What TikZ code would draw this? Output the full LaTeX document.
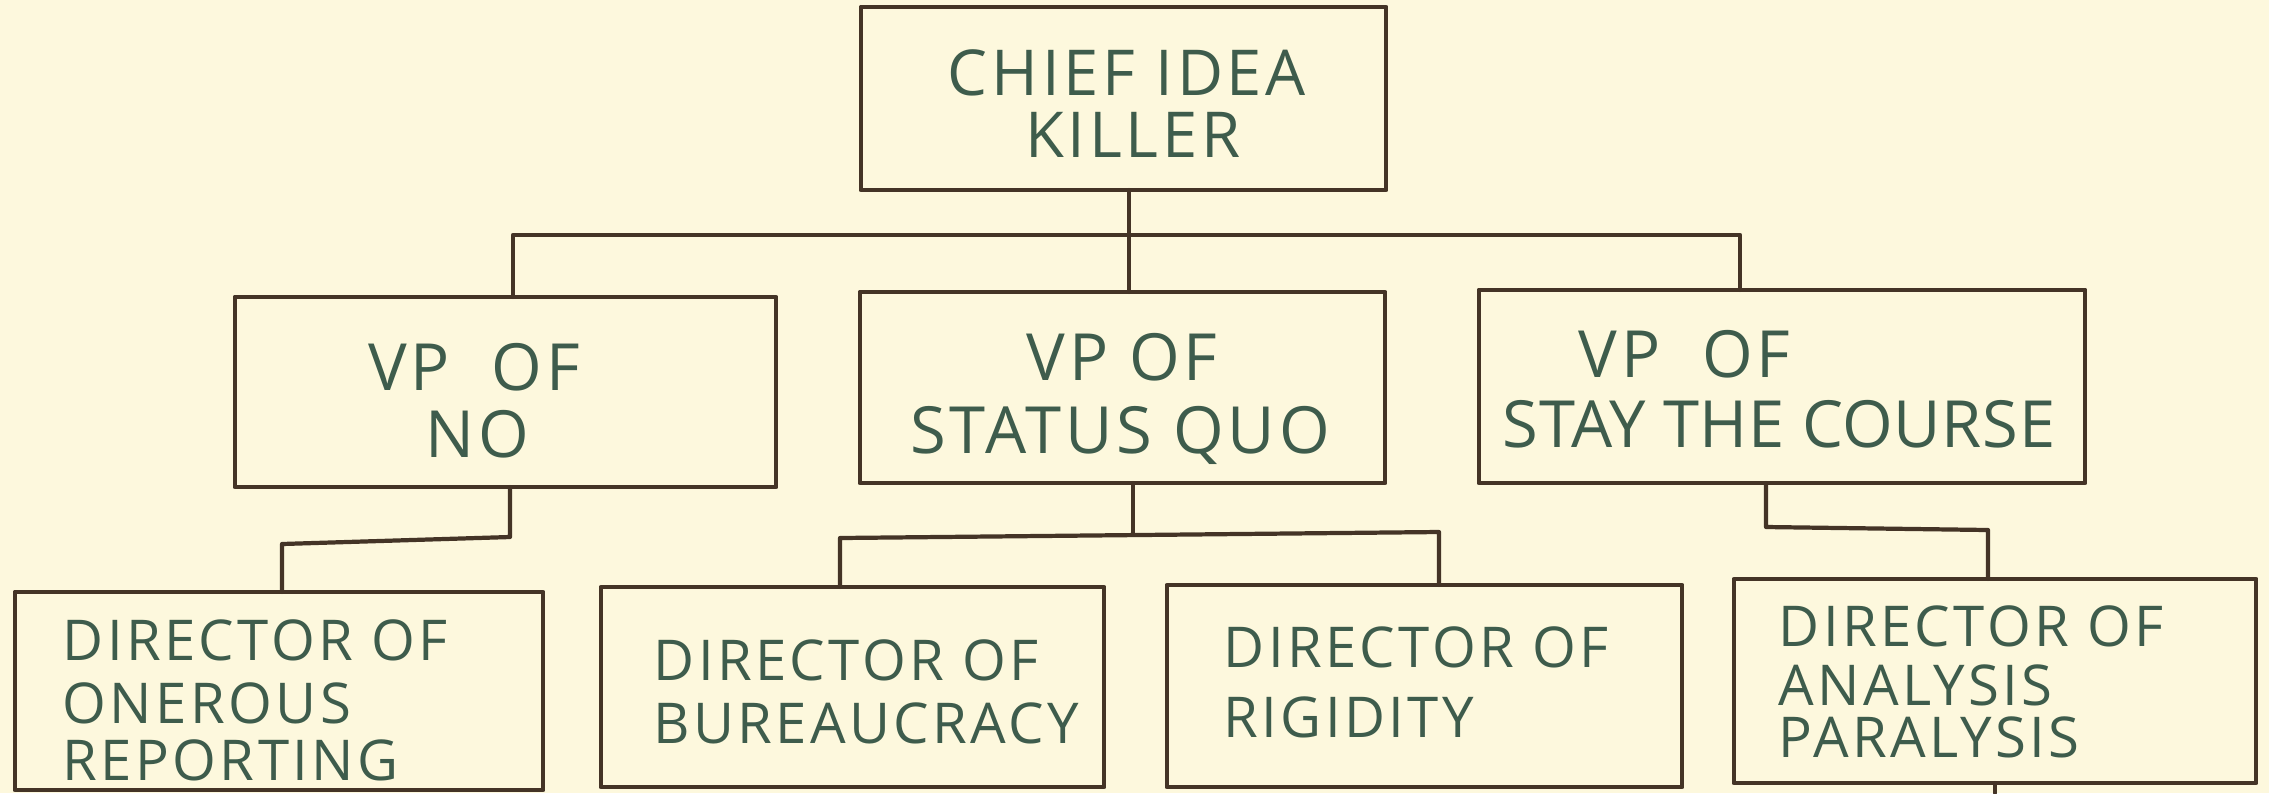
\documentclass[tikz,border=0pt]{standalone}
\usepackage{fontspec}
\setmainfont{Open Sans}[LetterSpace=6]
\definecolor{paper}{RGB}{253,248,221}
\definecolor{ink}{RGB}{68,52,38}
\definecolor{pen}{RGB}{62,92,76}
\tikzset{
  box/.style={draw=ink, line width=1.3pt, rectangle, inner sep=0pt, outer sep=0pt, line join=round},
  wire/.style={draw=ink, line width=1.2pt, line cap=round, line join=round},
  headtxt/.style={text=pen, inner sep=0pt, text depth=0pt, font=\fontsize{18}{20}\selectfont},
  vptxt/.style={text=pen, inner sep=0pt, text depth=0pt, font=\fontsize{18.5}{21}\selectfont},
  dirtxt/.style={text=pen, inner sep=0pt, text depth=0pt, font=\fontsize{16}{18}\selectfont},
}
\begin{document}
\begin{tikzpicture}[x=0.01cm, y=-0.01cm]
  % paper
  \fill[paper] (0,0) rectangle (2269,793);
  \useasboundingbox (0,0) rectangle (2269,793);

  % boxes
  \node[box, minimum width=5.25cm, minimum height=1.83cm] (chief) at (1123.5,98.5) {};
  \node[box, minimum width=5.41cm, minimum height=1.90cm] (vpno) at (505.5,392) {};
  \node[box, minimum width=5.25cm, minimum height=1.91cm] (vpsq) at (1122.5,387.5) {};
  \node[box, minimum width=6.06cm, minimum height=1.93cm] (vpstay) at (1782,386.5) {};
  \node[box, minimum width=5.28cm, minimum height=1.98cm] (onerous) at (279,691) {};
  \node[box, minimum width=5.03cm, minimum height=2.00cm] (bureau) at (852.5,687) {};
  \node[box, minimum width=5.15cm, minimum height=2.02cm] (rigid) at (1424.5,686) {};
  \node[box, minimum width=5.22cm, minimum height=2.04cm] (analysis) at (1995,681) {};

  % first level bus
  \coordinate (busA) at (1129,235);
  \coordinate (busL) at (513,235);
  \coordinate (busR) at (1740,235);
  \draw[wire] (chief.south -| busA) -- (busA);
  \draw[wire] (busL |- vpno.north) -- (busL) -- (busR) -- (busR |- vpstay.north);
  \draw[wire] (busA) -- (busA |- vpsq.north);

  % VP of No branch
  \coordinate (n1) at (510,537);
  \coordinate (n2) at (282,544);
  \draw[wire] (n1 |- vpno.south) -- (n1) -- (n2) -- (n2 |- onerous.north);

  % VP of Status Quo branch
  \coordinate (s0) at (1133,534);
  \coordinate (s1) at (840,538);
  \coordinate (s2) at (1439,532);
  \draw[wire] (s0 |- vpsq.south) -- (s0);
  \draw[wire] (s1 |- bureau.north) -- (s1) -- (s2) -- (s2 |- rigid.north);

  % VP of Stay the Course branch
  \coordinate (c1) at (1766,527);
  \coordinate (c2) at (1988,530);
  \coordinate (c3) at (1995,793);
  \draw[wire] (c1 |- vpstay.south) -- (c1) -- (c2) -- (c2 |- analysis.north);
  \draw[wire] (c3 |- analysis.south) -- (c3);

  % lettering
  \node[headtxt, anchor=base] (chief-a) at (1127,95) {CHIEF IDEA};
  \node[headtxt, anchor=base] (chief-b) at (1133,157) {KILLER};

  \node[vptxt, anchor=base] (vpno-a) at (474,390) {VP~~OF};
  \node[vptxt, anchor=base] (vpno-b) at (477,457) {NO};

  \node[vptxt, anchor=base] (vpsq-a) at (1122,380) {VP OF};
  \node[vptxt, anchor=base] (vpsq-b) at (1120,453) {STATUS QUO};

  \node[vptxt, anchor=base west] (vpstay-a) at (1578,377) {VP~~OF};
  \node[vptxt, anchor=base west] (vpstay-b) at (1502,447)
    {\addfontfeature{LetterSpace=1}STAY THE COURSE};

  \node[dirtxt, anchor=base west] (onerous-a) at (62,660) {DIRECTOR OF};
  \node[dirtxt, anchor=base west] (onerous-b) at (62,723) {ONEROUS};
  \node[dirtxt, anchor=base west] (onerous-c) at (62,780) {REPORTING};

  \node[dirtxt, anchor=base west] (bureau-a) at (653,680) {DIRECTOR OF};
  \node[dirtxt, anchor=base west] (bureau-b) at (653,743) {BUREAUCRACY};

  \node[dirtxt, anchor=base west] (rigid-a) at (1223,667) {DIRECTOR OF};
  \node[dirtxt, anchor=base west] (rigid-b) at (1223,737) {RIGIDITY};

  \node[dirtxt, anchor=base west] (analysis-a) at (1778,646) {DIRECTOR OF};
  \node[dirtxt, anchor=base west] (analysis-b) at (1778,705) {ANALYSIS};
  \node[dirtxt, anchor=base west] (analysis-c) at (1778,757) {PARALYSIS};
\end{tikzpicture}
\end{document}
